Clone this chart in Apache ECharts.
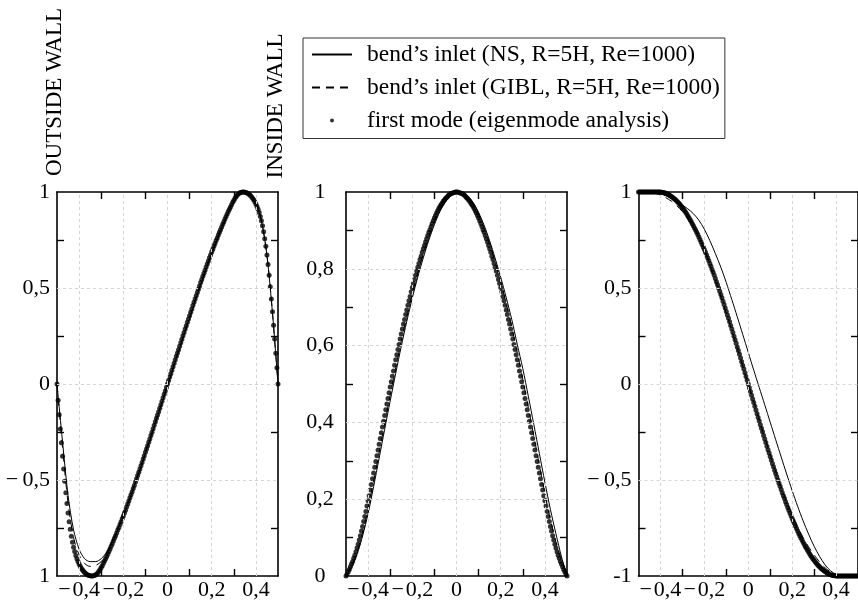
<!DOCTYPE html>
<html><head><meta charset="utf-8">
<script src="https://cdn.jsdelivr.net/npm/echarts@6/dist/echarts.min.js"></script>
<style>html,body{margin:0;padding:0;background:#fff}#c{width:858px;height:605px}</style>
</head><body><div id="c"></div>
<script>
// ---------- names ----------
const NAME_NS = 'bend\u2019s inlet (NS, R=5H, Re=1000)';
const NAME_GIBL = 'bend\u2019s inlet (GIBL, R=5H, Re=1000)';
const NAME_MODE = 'first mode (eigenmode analysis)';

// ---------- axes: ticks, labels, grid lines ----------
const xTickVals = [-0.3, -0.1, 0.1, 0.3];
const xLabelVals = [-0.4, -0.2, 0, 0.2, 0.4];
const xLabelTexts = ['\u2212\u200a0,4', '\u2212\u200a0,2', '0', '0,2', '0,4'];
const xGridVals = [-0.4, -0.2, 0, 0.2, 0.4];

const y13TickVals = [-0.75, -0.25, 0.25, 0.75];
const y13LabelVals = [-1, -0.5, 0, 0.5, 1];
const y1LabelTexts = ['1', '\u2212\u20090,5', '0', '0,5', '1'];
const y3LabelTexts = ['-1', '\u2212\u20090,5', '0', '0,5', '1'];
const y13GridVals = [-0.5, 0, 0.5];

const y2TickVals = [0.1, 0.3, 0.5, 0.7, 0.9];
const y2LabelVals = [0, 0.2, 0.4, 0.6, 0.8, 1];
const y2LabelTexts = ['0', '0,2', '0,4', '0,6', '0,8', '1'];
const y2GridVals = [0.2, 0.4, 0.6, 0.8];

// ---------- line series (x step 0.025) ----------
const lineX = [-0.5, -0.475, -0.45, -0.425, -0.4, -0.375, -0.35, -0.325, -0.3, -0.275, -0.25, -0.225, -0.2, -0.175, -0.15, -0.125, -0.1, -0.075, -0.05, -0.025, 0,
  0.025, 0.05, 0.075, 0.1, 0.125, 0.15, 0.175, 0.2, 0.225, 0.25, 0.275, 0.3, 0.325, 0.35, 0.375, 0.4, 0.425, 0.45, 0.475, 0.5];

const p1NS = [0, -0.30, -0.58, -0.76, -0.86, -0.91, -0.925, -0.925, -0.91, -0.875, -0.82, -0.755, -0.685, -0.61, -0.53, -0.448, -0.362, -0.275, -0.187, -0.098, -0.01,
  0.08, 0.168, 0.256, 0.343, 0.43, 0.515, 0.597, 0.676, 0.751, 0.823, 0.89, 0.95, 0.99, 1.0, 0.985, 0.94, 0.85, 0.67, 0.37, 0];
const p1GIBL = [0, -0.33, -0.62, -0.80, -0.89, -0.935, -0.95, -0.945, -0.925, -0.885, -0.825, -0.757, -0.686, -0.609, -0.528, -0.445, -0.358, -0.27, -0.182, -0.094, -0.005,
  0.085, 0.173, 0.262, 0.35, 0.437, 0.522, 0.603, 0.682, 0.756, 0.828, 0.894, 0.953, 0.992, 1.0, 0.984, 0.939, 0.85, 0.671, 0.373, 0];

const p2NS = [0, 0.022, 0.058, 0.104, 0.163, 0.233, 0.307, 0.382, 0.456, 0.528, 0.598, 0.663, 0.724, 0.779, 0.829, 0.875, 0.915, 0.949, 0.974, 0.991, 0.999,
  0.999, 0.990, 0.973, 0.947, 0.913, 0.873, 0.827, 0.778, 0.725, 0.668, 0.603, 0.540, 0.468, 0.394, 0.319, 0.244, 0.173, 0.110, 0.050, 0];
const p2GIBL = [0, 0.025, 0.062, 0.112, 0.177, 0.247, 0.322, 0.397, 0.471, 0.543, 0.611, 0.676, 0.735, 0.790, 0.839, 0.884, 0.922, 0.954, 0.978, 0.993, 1.0,
  0.998, 0.987, 0.969, 0.941, 0.905, 0.864, 0.818, 0.766, 0.710, 0.648, 0.582, 0.512, 0.439, 0.364, 0.289, 0.215, 0.147, 0.088, 0.041, 0];

const p3NS = [1.0, 1.0, 1.0, 0.997, 0.990, 0.980, 0.966, 0.950, 0.932, 0.912, 0.887, 0.853, 0.806, 0.747, 0.680, 0.608, 0.528, 0.440, 0.350, 0.258, 0.165,
  0.072, -0.018, -0.108, -0.199, -0.290, -0.380, -0.469, -0.555, -0.637, -0.713, -0.782, -0.845, -0.898, -0.942, -0.973, -0.991, -0.999, -1.0, -1.0, -1.0];
const p3GIBL = [1.0, 1.0, 0.998, 0.993, 0.984, 0.970, 0.952, 0.928, 0.898, 0.862, 0.818, 0.764, 0.700, 0.620, 0.540, 0.455, 0.368, 0.278, 0.186, 0.093, 0.0,
  -0.090, -0.185, -0.278, -0.368, -0.455, -0.537, -0.613, -0.683, -0.745, -0.800, -0.848, -0.890, -0.927, -0.957, -0.979, -0.993, -0.999, -1.0, -1.0, -1.0];

// ---------- eigenmode dots (x from -0.5 to 0.5, step 0.005, 201 samples) ----------
const dotXStart = -0.5, dotXStep = 0.005;

const p1Dots = [
  0, -0.084, -0.160, -0.234, -0.306, -0.376, -0.443, -0.507, -0.567, -0.622,
  -0.672, -0.717, -0.757, -0.793, -0.824, -0.850, -0.873, -0.893, -0.910, -0.925,
  -0.938, -0.949, -0.959, -0.968, -0.975, -0.982, -0.987, -0.992, -0.995, -0.998,
  -0.999, -1.000, -1.000, -0.999, -0.997, -0.994, -0.989, -0.983, -0.975, -0.966,
  -0.956, -0.946, -0.934, -0.922, -0.910, -0.898, -0.885, -0.872, -0.859, -0.845,
  -0.832, -0.818, -0.804, -0.790, -0.776, -0.761, -0.747, -0.732, -0.717, -0.702,
  -0.687, -0.672, -0.657, -0.641, -0.625, -0.609, -0.593, -0.577, -0.561, -0.544,
  -0.528, -0.511, -0.494, -0.477, -0.460, -0.443, -0.426, -0.409, -0.391, -0.374,
  -0.356, -0.339, -0.321, -0.304, -0.286, -0.268, -0.251, -0.233, -0.215, -0.197,
  -0.179, -0.162, -0.144, -0.126, -0.108, -0.090, -0.072, -0.054, -0.036, -0.018,
  0, 0.018, 0.036, 0.054, 0.072, 0.090, 0.108, 0.126, 0.144, 0.162,
  0.179, 0.197, 0.215, 0.233, 0.251, 0.268, 0.286, 0.304, 0.321, 0.339,
  0.356, 0.374, 0.391, 0.409, 0.426, 0.443, 0.460, 0.477, 0.494, 0.511,
  0.528, 0.544, 0.561, 0.577, 0.593, 0.609, 0.625, 0.641, 0.657, 0.672,
  0.687, 0.702, 0.717, 0.732, 0.747, 0.761, 0.776, 0.790, 0.804, 0.818,
  0.832, 0.845, 0.859, 0.872, 0.885, 0.898, 0.910, 0.922, 0.934, 0.946,
  0.956, 0.966, 0.975, 0.983, 0.989, 0.994, 0.997, 0.999, 1.000, 1.000,
  0.999, 0.998, 0.995, 0.992, 0.987, 0.982, 0.975, 0.968, 0.959, 0.949,
  0.938, 0.925, 0.910, 0.893, 0.873, 0.850, 0.824, 0.793, 0.757, 0.717,
  0.672, 0.622, 0.567, 0.507, 0.443, 0.376, 0.306, 0.234, 0.160, 0.084,
  0
];

const p2Dots = [
  0, 0.005, 0.011, 0.017, 0.024, 0.031, 0.038, 0.046, 0.054, 0.063,
  0.073, 0.083, 0.094, 0.105, 0.117, 0.129, 0.142, 0.155, 0.168, 0.182,
  0.196, 0.209, 0.224, 0.238, 0.253, 0.268, 0.283, 0.298, 0.313, 0.328,
  0.343, 0.358, 0.373, 0.388, 0.403, 0.418, 0.433, 0.448, 0.462, 0.477,
  0.492, 0.506, 0.520, 0.534, 0.549, 0.563, 0.576, 0.590, 0.603, 0.617,
  0.630, 0.643, 0.656, 0.668, 0.681, 0.693, 0.705, 0.717, 0.728, 0.740,
  0.751, 0.762, 0.772, 0.783, 0.794, 0.804, 0.814, 0.824, 0.833, 0.843,
  0.852, 0.861, 0.870, 0.878, 0.887, 0.895, 0.902, 0.910, 0.918, 0.925,
  0.932, 0.939, 0.945, 0.951, 0.957, 0.962, 0.967, 0.971, 0.976, 0.979,
  0.983, 0.986, 0.989, 0.992, 0.994, 0.996, 0.997, 0.998, 0.999, 1.000,
  1.000, 1.000, 0.999, 0.998, 0.997, 0.996, 0.994, 0.992, 0.989, 0.986,
  0.983, 0.979, 0.976, 0.971, 0.967, 0.962, 0.957, 0.951, 0.945, 0.939,
  0.932, 0.925, 0.918, 0.910, 0.902, 0.895, 0.887, 0.878, 0.870, 0.861,
  0.852, 0.843, 0.833, 0.824, 0.814, 0.804, 0.794, 0.783, 0.772, 0.762,
  0.751, 0.740, 0.728, 0.717, 0.705, 0.693, 0.681, 0.668, 0.656, 0.643,
  0.630, 0.617, 0.603, 0.590, 0.576, 0.563, 0.549, 0.534, 0.520, 0.506,
  0.492, 0.477, 0.462, 0.448, 0.433, 0.418, 0.403, 0.388, 0.373, 0.358,
  0.343, 0.328, 0.313, 0.298, 0.283, 0.268, 0.253, 0.238, 0.224, 0.209,
  0.196, 0.182, 0.168, 0.155, 0.142, 0.129, 0.117, 0.105, 0.094, 0.083,
  0.073, 0.063, 0.054, 0.046, 0.038, 0.031, 0.024, 0.017, 0.011, 0.005,
  0
];

const p3Dots = [
  1.000, 1.000, 1.000, 1.000, 1.000, 1.000, 1.000, 1.000, 1.000, 1.000,
  1.000, 1.000, 1.000, 1.000, 1.000, 1.000, 1.000, 1.000, 1.000, 1.000,
  1.000, 0.999, 0.998, 0.997, 0.995, 0.993, 0.991, 0.988, 0.985, 0.981,
  0.977, 0.973, 0.968, 0.963, 0.958, 0.952, 0.946, 0.940, 0.933, 0.926,
  0.918, 0.911, 0.902, 0.894, 0.885, 0.875, 0.866, 0.856, 0.846, 0.835,
  0.824, 0.813, 0.802, 0.790, 0.778, 0.766, 0.753, 0.740, 0.727, 0.714,
  0.700, 0.686, 0.672, 0.658, 0.643, 0.628, 0.613, 0.597, 0.582, 0.566,
  0.550, 0.533, 0.517, 0.500, 0.483, 0.466, 0.449, 0.431, 0.414, 0.396,
  0.378, 0.360, 0.342, 0.324, 0.305, 0.287, 0.268, 0.249, 0.231, 0.212,
  0.193, 0.174, 0.155, 0.135, 0.116, 0.097, 0.078, 0.058, 0.039, 0.019,
  0, -0.019, -0.039, -0.058, -0.078, -0.097, -0.116, -0.135, -0.155, -0.174,
  -0.193, -0.212, -0.231, -0.249, -0.268, -0.287, -0.305, -0.324, -0.342, -0.360,
  -0.378, -0.396, -0.414, -0.431, -0.449, -0.466, -0.483, -0.500, -0.517, -0.533,
  -0.550, -0.566, -0.582, -0.597, -0.613, -0.628, -0.643, -0.658, -0.672, -0.686,
  -0.700, -0.714, -0.727, -0.740, -0.753, -0.766, -0.778, -0.790, -0.802, -0.813,
  -0.824, -0.835, -0.846, -0.856, -0.866, -0.875, -0.885, -0.894, -0.902, -0.911,
  -0.918, -0.926, -0.933, -0.940, -0.946, -0.952, -0.958, -0.963, -0.968, -0.973,
  -0.977, -0.981, -0.985, -0.988, -0.991, -0.993, -0.995, -0.997, -0.998, -0.999,
  -1.000, -1.000, -1.000, -1.000, -1.000, -1.000, -1.000, -1.000, -1.000, -1.000,
  -1.000, -1.000, -1.000, -1.000, -1.000, -1.000, -1.000, -1.000, -1.000, -1.000,
  -1.000
];

// ---------- build ----------
const FONT = 'Liberation Serif';
const pairs = (xs, ys) => ys.map((y, i) => [xs[i], y]);
const dotX = p1Dots.map((_, i) => +(dotXStart + i * dotXStep).toFixed(4));
const lookup = (vals, texts) => (v) => {
  const k = vals.findIndex(a => Math.abs(a - v) < 1e-7);
  return k < 0 ? '' : texts[k];
};

const panels = [
  { left: 57, yMin: -1, yMax: 1, yInt: 0.25, yTicks: y13TickVals, yLabels: y13LabelVals, yTexts: y1LabelTexts, yGrid: y13GridVals, align: 'right', margin: 7, ns: p1NS, gibl: p1GIBL, dots: p1Dots },
  { left: 346, yMin: 0, yMax: 1, yInt: 0.1, yTicks: y2TickVals, yLabels: y2LabelVals, yTexts: y2LabelTexts, yGrid: y2GridVals, align: 'center', margin: 26, ns: p2NS, gibl: p2GIBL, dots: p2Dots },
  { left: 638.5, yMin: -1, yMax: 1, yInt: 0.25, yTicks: y13TickVals, yLabels: y13LabelVals, yTexts: y3LabelTexts, yGrid: y13GridVals, align: 'right', margin: 7, ns: p3NS, gibl: p3GIBL, dots: p3Dots }
];

const axisLineStyle = { color: '#000', width: 1.6 };
const tickStyle = { color: '#000', width: 1.4 };
const grids = [], xAxes = [], yAxes = [], series = [];

panels.forEach((p, i) => {
  grids.push({ left: p.left, top: 192, width: 221, height: 384 });
  const xBase = { gridIndex: i, type: 'value', min: -0.5, max: 0.5, interval: 0.1, splitLine: { show: false } };
  xAxes.push(Object.assign({}, xBase, {
    position: 'bottom',
    axisLine: { show: true, onZero: false, lineStyle: axisLineStyle },
    axisTick: { show: true, inside: true, length: 7, customValues: xTickVals, lineStyle: tickStyle },
    axisLabel: { show: true, customValues: xLabelVals, showMinLabel: true, showMaxLabel: true, hideOverlap: false,
      formatter: lookup(xLabelVals, xLabelTexts), fontFamily: FONT, fontSize: 22, color: '#000', margin: 3 }
  }));
  xAxes.push(Object.assign({}, xBase, {
    position: 'top',
    axisLine: { show: true, onZero: false, lineStyle: axisLineStyle },
    axisTick: { show: true, inside: true, length: 7, customValues: xTickVals, lineStyle: tickStyle },
    axisLabel: { show: false }
  }));
  const yBase = { gridIndex: i, type: 'value', min: p.yMin, max: p.yMax, interval: p.yInt, splitLine: { show: false } };
  yAxes.push(Object.assign({}, yBase, {
    position: 'left',
    axisLine: { show: true, onZero: false, lineStyle: axisLineStyle },
    axisTick: { show: true, inside: true, length: 7, customValues: p.yTicks, lineStyle: tickStyle },
    axisLabel: { show: true, customValues: p.yLabels, showMinLabel: true, showMaxLabel: true, hideOverlap: false,
      formatter: lookup(p.yLabels, p.yTexts), fontFamily: FONT, fontSize: 22, color: '#000', margin: p.margin, align: p.align }
  }));
  yAxes.push(Object.assign({}, yBase, {
    position: 'right',
    axisLine: { show: true, onZero: false, lineStyle: axisLineStyle },
    axisTick: { show: true, inside: true, length: 7, customValues: p.yTicks, lineStyle: tickStyle },
    axisLabel: { show: false }
  }));

  const xi = 2 * i, yi = 2 * i;
  series.push({
    type: 'line', xAxisIndex: xi, yAxisIndex: yi, data: [], z: 1, silent: true,
    markLine: {
      silent: true, symbol: 'none', animation: false,
      label: { show: false },
      lineStyle: { type: [3, 3], color: '#d4d4d4', width: 1 },
      emphasis: { disabled: true },
      data: xGridVals.map(v => ({ xAxis: v })).concat(p.yGrid.map(v => ({ yAxis: v })))
    }
  });
  series.push({
    name: NAME_NS, type: 'line', xAxisIndex: xi, yAxisIndex: yi, data: pairs(lineX, p.ns),
    symbol: 'none', showSymbol: false, smooth: 0.3, z: 3, clip: false,
    lineStyle: { color: '#000', width: 1 }, itemStyle: { color: '#000' }
  });
  series.push({
    name: NAME_GIBL, type: 'line', xAxisIndex: xi, yAxisIndex: yi, data: pairs(lineX, p.gibl),
    symbol: 'none', showSymbol: false, smooth: 0.3, z: 3, clip: false,
    lineStyle: { color: '#000', width: 1, type: [8, 6] }, itemStyle: { color: '#000' }
  });
  series.push({
    name: NAME_MODE, type: 'scatter', xAxisIndex: xi, yAxisIndex: yi, data: pairs(dotX, p.dots),
    symbol: 'circle', symbolSize: 5, z: 4, clip: false,
    itemStyle: { color: '#000' }
  });
});

const chart = echarts.init(document.getElementById('c'), null, { renderer: 'canvas' });
chart.setOption({
  animation: false,
  backgroundColor: '#fff',
  grid: grids,
  xAxis: xAxes,
  yAxis: yAxes,
  series: series,
  legend: {
    orient: 'vertical', left: 303, top: 38,
    data: [
      { name: NAME_NS, itemStyle: { opacity: 0 } },
      { name: NAME_GIBL, itemStyle: { opacity: 0 } },
      { name: NAME_MODE }
    ],
    itemWidth: 40, itemHeight: 4, itemGap: 7,
    padding: [3.5, 5, 5, 8],
    borderColor: '#333', borderWidth: 1, borderRadius: 0,
    selectedMode: false,
    textStyle: { fontFamily: FONT, fontSize: 23.5, color: '#000', lineHeight: 26, padding: [0, 0, 0, 10] }
  },
  graphic: [
    { type: 'text', x: 55, y: 92, rotation: Math.PI / 2, style: { text: 'OUTSIDE WALL', font: '23px "Liberation Serif"', fill: '#000', align: 'center', verticalAlign: 'middle' } },
    { type: 'text', x: 276, y: 106, rotation: Math.PI / 2, style: { text: 'INSIDE WALL', font: '23px "Liberation Serif"', fill: '#000', align: 'center', verticalAlign: 'middle' } }
  ]
});
</script></body></html>
